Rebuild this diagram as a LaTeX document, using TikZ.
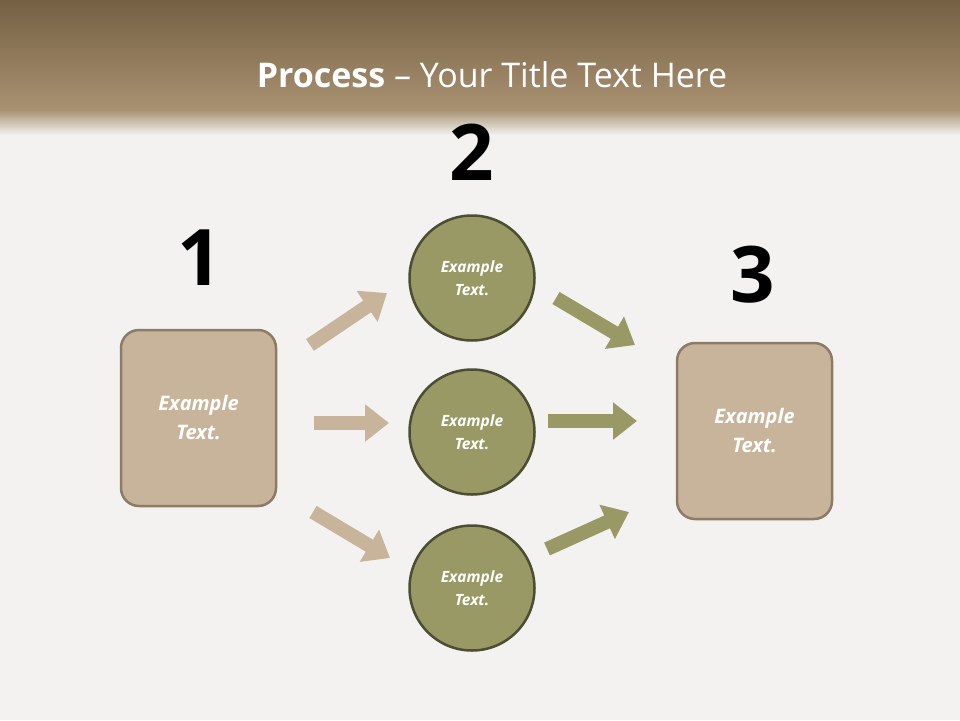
\documentclass[tikz,border=0pt]{standalone}
\usepackage{fontspec}
\setmainfont{Open Sans}
\usetikzlibrary{arrows.meta}
\definecolor{tan}{HTML}{C8B49A}
\definecolor{tanb}{HTML}{8C7B68}
\definecolor{olive}{HTML}{999966}
\definecolor{oliveb}{HTML}{4D4D33}
\definecolor{hdrtop}{HTML}{766043}
\definecolor{hdrbot}{HTML}{A89272}
\definecolor{wall}{HTML}{F3F2F0}
\tikzset{
  box/.style={draw=tanb,fill=tan,line width=2.5pt,rounded corners=18pt,minimum width=155pt,minimum height=176pt,text=white,font=\bfseries\itshape\fontsize{20}{29}\selectfont,align=center},
  circ/.style={circle,draw=oliveb,fill=olive,line width=2.5pt,minimum size=125pt,text=white,font=\bfseries\itshape\fontsize{15.5}{23}\selectfont,align=center},
  num/.style={font=\bfseries\fontsize{78}{78}\selectfont},
  barrow/.style={line width=14pt,-{Triangle[length=24pt,width=36pt]}},
}
\begin{document}
\begin{tikzpicture}[x=1pt,y=-1pt]
\useasboundingbox (0,0) rectangle (960,720);
\fill[wall] (0,0) rectangle (960,720);
\shade[top color=hdrtop,bottom color=hdrbot] (0,0) rectangle (960,110);
\shade[top color=hdrbot,bottom color=wall] (0,110) rectangle (960,135);
\node[text=white,font=\fontsize{34}{40}\selectfont] (title) at (492,75) {\textbf{Process} -- Your Title Text Here};
\node[box] (b1) at (198.5,418) {Example\\Text.};
\node[box] (b3) at (754.5,431) {Example\\Text.};
\node[circ] (c1) at (472,278) {Example\\Text.};
\node[circ] (c2) at (472,432) {Example\\Text.};
\node[circ] (c3) at (472,588) {Example\\Text.};
\node[num] (n1) at (200,258) {1};
\node[num] (n2) at (472,152) {2};
\node[num] (n3) at (753,275) {3};
\coordinate (a1s) at (310,345); \coordinate (a1e) at (387,293);
\coordinate (a2s) at (314,423); \coordinate (a2e) at (389,423);
\coordinate (a3s) at (313,512); \coordinate (a3e) at (390,558);
\coordinate (g1s) at (556,298); \coordinate (g1e) at (635,345);
\coordinate (g2s) at (548,421); \coordinate (g2e) at (637,421);
\coordinate (g3s) at (547,549); \coordinate (g3e) at (629,512);
\draw[barrow,draw=tan] (a1s) -- (a1e);
\draw[barrow,draw=tan] (a2s) -- (a2e);
\draw[barrow,draw=tan] (a3s) -- (a3e);
\draw[barrow,draw=olive] (g1s) -- (g1e);
\draw[barrow,draw=olive] (g2s) -- (g2e);
\draw[barrow,draw=olive] (g3s) -- (g3e);
\end{tikzpicture}
\end{document}
